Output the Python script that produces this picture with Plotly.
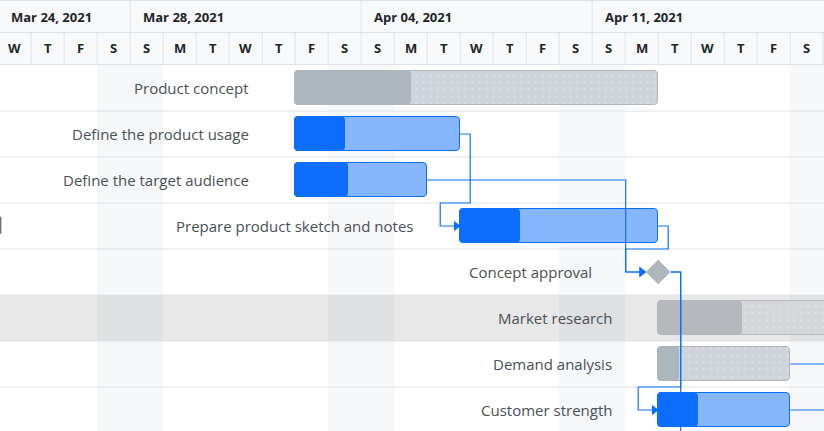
import plotly.graph_objects as go
from datetime import datetime, timedelta

# ---------------- data ----------------
tasks = ["Product concept", "Define the product usage", "Define the target audience",
         "Prepare product sketch and notes", "Concept approval", "Market research",
         "Demand analysis", "Customer strength"]
starts = ["2021-04-02", "2021-04-02", "2021-04-02", "2021-04-07",
          "2021-04-13", "2021-04-13", "2021-04-13", "2021-04-13"]
ends = ["2021-04-13", "2021-04-07", "2021-04-06", "2021-04-13",
        "2021-04-13", "2021-04-24", "2021-04-17", "2021-04-17"]
progress = [32, 30, 40, 30, 0, 23, 16, 30]
kinds = ["summary", "task", "task", "task", "milestone", "summary", "summary", "task"]
links_pred = [1, 2, 3, 4]
links_succ = [3, 4, 4, 7]
# links whose successors lie outside the visible window
off_pred = [4, 6, 7]
off_succ_start = ["2021-04-13", "2021-04-19", "2021-04-19"]
off_succ_row = [8, 6, 7]
selected_row = 5

view_start = "2021-03-24"
week_starts = ["2021-03-24", "2021-03-28", "2021-04-04", "2021-04-11"]
week_labels = ["Mar 24, 2021", "Mar 28, 2021", "Apr 04, 2021", "Apr 11, 2021"]
day_letters = ["M", "T", "W", "T", "F", "S", "S"]  # Monday..Sunday

# ---------------- geometry / style ----------------
W, H = 824, 431
DAY_PX = 33
ROW_PX = 46
HEADER_PX = 65
SCROLL_PX = 1.8   # timeline scrolled slightly past the first day
n_days_visible = 26

def P(s):
    return datetime.strptime(s, "%Y-%m-%d")

d0 = P(view_start)
def shift(dt, px):
    return dt + timedelta(days=px / DAY_PX)

x_range = [shift(d0, SCROLL_PX), shift(d0, SCROLL_PX + W)]
n_rows_visible = (H - HEADER_PX) / ROW_PX
y_range = [n_rows_visible - 0.5, -0.5]
def paper_y(px):
    return 1 - px / H

BLUE = "#0d6efd"
LIGHT_BLUE = "#86b7fe"
GRAY = "#adb5bd"
LIGHT_GRAY = "#ced4da"
SEL_GRAY = "#b5b9be"
SEL_LIGHT = "#d4d6d9"
TEXT = "#495057"
FONT = "Open Sans"
BAR_W = 0.72

fig = go.Figure()
shapes = []
annotations = []

# header background and lines
shapes.append(dict(type="rect", xref="paper", yref="paper", x0=0, x1=1, y0=paper_y(HEADER_PX), y1=1,
                   fillcolor="#f8f9fa", line_width=0, layer="below"))
for ypx in [0.5, 32.5, 64.5]:
    shapes.append(dict(type="line", xref="paper", yref="paper", x0=0, x1=1, y0=paper_y(ypx), y1=paper_y(ypx),
                       line=dict(color="#dee2e6", width=1), layer="above"))

# day columns
for i in range(n_days_visible):
    day = d0 + timedelta(days=i)
    if day.weekday() >= 5:
        shapes.append(dict(type="rect", xref="x", yref="paper", x0=day, x1=day + timedelta(days=1),
                           y0=0, y1=paper_y(HEADER_PX), fillcolor="#f6f7f9", line_width=0, layer="below"))
    shapes.append(dict(type="line", xref="x", yref="paper", x0=day, x1=day,
                       y0=paper_y(64), y1=paper_y(33), line=dict(color="#dee2e6", width=1), layer="above"))
    annotations.append(dict(x=day + timedelta(hours=12), y=paper_y(48.5), xref="x", yref="paper",
                            text="<b>%s</b>" % day_letters[day.weekday()], showarrow=False,
                            font=dict(family=FONT, size=13, color="#212529"), xanchor="center", yanchor="middle"))

# week cells (first cell is clipped at the left edge of the view)
for ws, wl in zip(week_starts, week_labels):
    wd = P(ws)
    shapes.append(dict(type="line", xref="x", yref="paper", x0=wd, x1=wd,
                       y0=paper_y(33), y1=1, line=dict(color="#dee2e6", width=1), layer="above"))
    ax_ = max(wd, shift(x_range[0], 0.01))
    xsh = 11 if ax_ == wd else 9
    annotations.append(dict(x=ax_, y=paper_y(17), xref="x", yref="paper", text="<b>%s</b>" % wl,
                            showarrow=False, xanchor="left", yanchor="middle", xshift=xsh,
                            font=dict(family=FONT, size=13, color="#212529")))

# selected row highlight
shapes.append(dict(type="rect", xref="paper", yref="y", x0=0, x1=1, y0=selected_row - 0.5, y1=selected_row + 0.5,
                   fillcolor="rgba(0,0,0,0.09)", line_width=0, layer="below"))
# row separators
for r in range(len(tasks)):
    shapes.append(dict(type="line", xref="paper", yref="y", x0=0, x1=1, y0=r + 0.5, y1=r + 0.5,
                       line=dict(color="#dee2e6", width=1), layer="below"))
# pane splitter edge at the far left
shapes.append(dict(type="line", xref="paper", yref="y", x0=0.0008, x1=0.0008, y0=2.8, y1=3.17,
                   line=dict(color="#6c757d", width=1.5)))

# ---------------- bars ----------------
def ms(a, b):
    return (b - a).total_seconds() * 1000

groups = {}
for i, k in enumerate(kinds):
    if k == "milestone":
        continue
    s, e = P(starts[i]), P(ends[i])
    full = ms(s, e)
    prog = full * progress[i] / 100
    if k == "task":
        key = "task"
        cfull, cprog, cline = LIGHT_BLUE, BLUE, BLUE
    elif i == selected_row:
        key = "sel"
        cfull, cprog, cline = SEL_LIGHT, SEL_GRAY, SEL_GRAY
    else:
        key = "summary"
        cfull, cprog, cline = LIGHT_GRAY, GRAY, GRAY
    g = groups.setdefault(key, dict(y=[], base=[], full=[], prog=[], cfull=cfull, cprog=cprog, cline=cline))
    g["y"].append(i); g["base"].append(s); g["full"].append(full); g["prog"].append(prog)

for key, g in groups.items():
    pattern = dict(shape=".", fgcolor="#e6e9ec", size=7, solidity=0.12) if key != "task" else dict(shape="")
    fig.add_trace(go.Bar(y=g["y"], base=g["base"], x=g["full"], orientation="h", width=BAR_W,
                         marker=dict(color=g["cfull"], line=dict(color=g["cline"], width=1),
                                     cornerradius=4, pattern=pattern),
                         hoverinfo="skip", showlegend=False))
    fig.add_trace(go.Bar(y=g["y"], base=g["base"], x=g["prog"], orientation="h", width=BAR_W,
                         marker=dict(color=g["cprog"], line=dict(color=g["cline"], width=1), cornerradius=4),
                         hoverinfo="skip", showlegend=False))

# milestones
DIAMOND_HALF_PX = 12.5
mi = [i for i, k in enumerate(kinds) if k == "milestone"]
fig.add_trace(go.Scatter(x=[P(starts[i]) for i in mi], y=mi, mode="markers",
                         marker=dict(symbol="diamond", size=19, color=GRAY, line=dict(width=0)),
                         hoverinfo="skip", showlegend=False))

# labels
for i, t in enumerate(tasks):
    xs = -64 if kinds[i] == "milestone" else -44
    annotations.append(dict(x=P(starts[i]), y=i, xref="x", yref="y", text=t, showarrow=False,
                            xanchor="right", yanchor="middle", xshift=xs,
                            font=dict(family=FONT, size=15, color=TEXT)))

# ---------------- dependency connectors ----------------
def end_point(i):
    if kinds[i] == "milestone":
        return shift(P(starts[i]), DIAMOND_HALF_PX)
    return P(ends[i])

def start_point(i):
    if kinds[i] == "milestone":
        return shift(P(starts[i]), -DIAMOND_HALF_PX)
    return P(starts[i])

def connector(pe, pr, ss, sr):
    vx = shift(ss, -20)
    tip = shift(ss, -4)
    if shift(pe, 10) <= vx:
        xs = [pe, vx, vx, tip]
        ys = [pr, pr, sr, sr]
    else:
        ox = shift(pe, 10)
        ys_mid = sr - 0.5 if sr > pr else sr + 0.5
        xs = [pe, ox, ox, vx, vx, tip]
        ys = [pr, pr, ys_mid, ys_mid, sr, sr]
    return xs, ys

lx, ly, ax, ay = [], [], [], []
for p, s in zip(links_pred, links_succ):
    xs, ys = connector(end_point(p), p, start_point(s), s)
    lx += xs + [None]; ly += ys + [None]
    ax.append(xs[-1]); ay.append(ys[-1])
for p, ss, sr in zip(off_pred, off_succ_start, off_succ_row):
    xs, ys = connector(end_point(p), p, P(ss), sr)
    lx += xs + [None]; ly += ys + [None]

fig.add_trace(go.Scatter(x=lx, y=ly, mode="lines", line=dict(color=BLUE, width=1.2),
                         hoverinfo="skip", showlegend=False, cliponaxis=True))
fig.add_trace(go.Scatter(x=ax, y=ay, mode="markers",
                         marker=dict(symbol="triangle-right", size=9, color=BLUE, line=dict(width=0)),
                         hoverinfo="skip", showlegend=False))

fig.update_layout(
    width=W, height=H, margin=dict(l=0, r=0, t=0, b=0),
    paper_bgcolor="white", plot_bgcolor="white",
    barmode="overlay", bargap=0,
    shapes=shapes, annotations=annotations,
    xaxis=dict(type="date", range=x_range, showgrid=False, zeroline=False, showticklabels=False,
               ticks="", fixedrange=True),
    yaxis=dict(range=y_range, domain=[0, 1 - HEADER_PX / H], showgrid=False, zeroline=False,
               showticklabels=False, ticks="", fixedrange=True),
    font=dict(family=FONT),
)

fig.write_html("out.html", config={"displayModeBar": False},
               post_script="document.body.style.margin='0';document.body.style.overflow='hidden';")
